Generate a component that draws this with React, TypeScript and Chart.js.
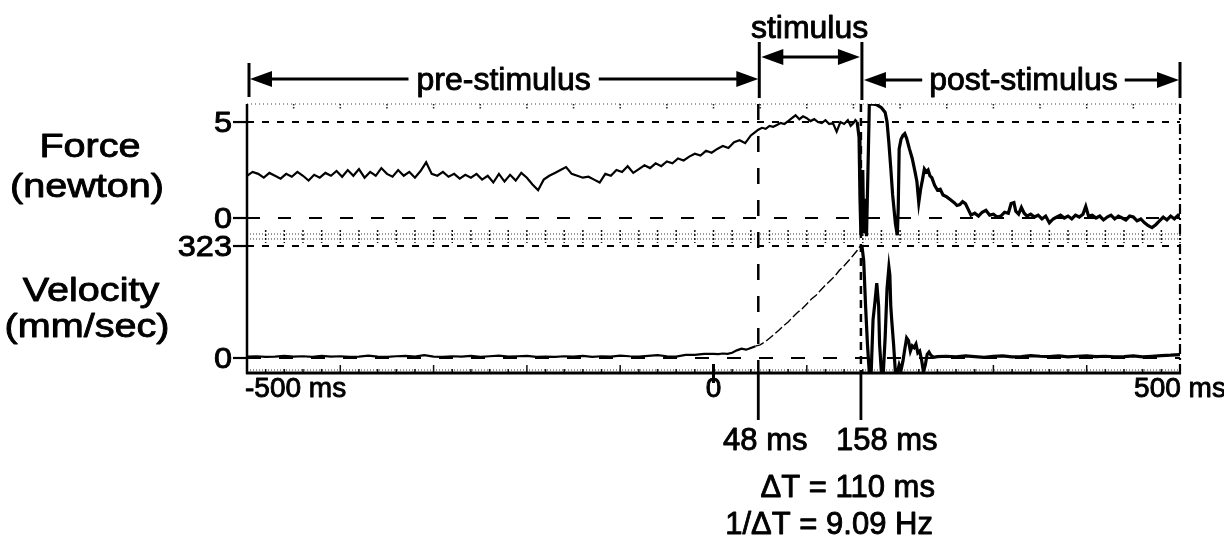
import React, { useEffect, useRef } from 'react';
import { Chart, registerables } from 'chart.js';

Chart.register(...registerables);

// ---------- data ----------
const forceTimes = [
  -500, -494, -488, -482, -476, -470, -464, -458, -452, -446,
  -440, -434, -428, -422, -416, -410, -404, -398, -392, -386,
  -380, -374, -368, -362, -356, -350, -344, -338, -332, -326,
  -320, -314, -308, -302, -296, -290, -284, -278, -272, -266,
  -260, -254, -248, -242, -236, -230, -224, -218, -212, -206,
  -200, -194, -188, -182, -176, -170, -164, -158, -152, -146,
  -140, -134, -128, -122, -116, -110, -104, -98, -92, -86,
  -80, -74, -68, -62, -56, -50, -44, -38, -32, -26,
  -20, -14, -8, -2, 4, 10, 16, 22, 28, 34,
  40, 44, 48, 52, 56, 60, 64, 68, 72, 76,
  80, 84, 88, 92, 96, 100, 104, 108, 112, 116,
  120, 124, 128, 132, 136, 140, 144, 147, 150, 152,
  154, 156, 157, 158, 160, 161, 163, 164, 166, 167,
  170, 175, 180, 184, 186, 188, 190, 192, 195, 197,
  198, 199, 201, 203, 205, 207, 210, 213, 216, 218,
  220, 222, 224, 226, 228, 230, 232, 234, 237, 240,
  243, 246, 250, 254, 258, 261, 264, 267, 270, 273,
  276, 280, 284, 288, 292, 296, 300, 304, 308, 312,
  316, 319, 322, 324, 327, 330, 333, 336, 340, 344,
  348, 352, 356, 360, 364, 368, 372, 376, 380, 384,
  388, 392, 396, 399, 402, 406, 410, 414, 418, 422,
  426, 430, 434, 438, 442, 446, 450, 454, 458, 462,
  466, 470, 474, 478, 482, 486, 490, 494, 498, 500,
];
const forceValues = [
  2.2, 2.4, 2.3, 2.1, 2.35, 2.2, 2.05, 2.3, 2.15, 2.4,
  2.2, 1.95, 2.25, 2.1, 2.35, 2.2, 2.45, 2.15, 2.5, 2.2,
  2.55, 2.1, 2.4, 2.2, 2.6, 2.3, 2.15, 2.5, 2.2, 2.4,
  2.1, 2.45, 2.9, 2.3, 2.2, 2.4, 2.15, 2.3, 2.05, 2.25,
  2.1, 2.3, 2.0, 2.2, 1.85, 2.3, 1.9, 2.25, 1.95, 2.35,
  2.1, 1.75, 1.45, 2.0, 2.2, 2.35, 2.5, 2.65, 2.3, 2.2,
  2.1, 2.15, 2.0, 1.85, 2.3, 2.2, 2.5, 2.4, 2.7, 2.35,
  2.55, 2.75, 2.6, 2.85, 2.7, 2.95, 2.85, 3.1, 3.0, 3.2,
  3.35, 3.25, 3.5, 3.4, 3.6, 3.75, 3.65, 3.95, 4.05, 3.9,
  4.3, 4.45, 4.6, 4.7, 4.65, 4.8, 4.75, 4.85, 4.95, 4.9,
  5.05, 5.2, 5.35, 5.15, 5.3, 5.2, 5.05, 5.15, 5.0, 4.95,
  5.1, 4.9, 4.95, 4.5, 5.0, 4.9, 5.1, 4.8, 4.95, 5.1,
  5.0, 4.2, 1.0, -0.9, 2.5, -0.8, 1.0, -0.95, 3.5, 5.9,
  5.95, 5.9, 5.75, 5.5, 5.0, 3.9, 2.6, 1.2, -0.3, -0.9,
  0.5, 3.6, 4.1, 4.3, 4.4, 4.15, 3.6, 3.1, 2.4, 1.9,
  0.8, 1.5, 2.0, 2.55, 2.4, 2.5, 2.2, 2.1, 1.7, 1.45,
  1.5, 1.2, 1.1, 0.95, 0.8, 0.65, 0.7, 0.85, 0.75, 0.45,
  0.15, 0.25, 0.1, 0.3, 0.4, 0.15, 0.2, 0.05, 0.1, 0.3,
  0.25, 0.75, 0.8, 0.35, 0.2, 0.55, 0.25, 0.1, 0.2, 0.05,
  0.15, -0.05, 0.1, -0.25, -0.05, 0.05, 0.15, 0.0, 0.1, -0.05,
  0.15, 0.05, 0.2, 0.6, 0.1, 0.15, 0.0, 0.1, -0.1, 0.05,
  0.15, -0.05, 0.1, 0.0, -0.1, 0.1, 0.05, -0.15, -0.05, -0.25,
  -0.4, -0.5, -0.35, -0.15, 0.05, -0.1, 0.1, -0.05, 0.15, 0.1,
];

const velocityTimes = [
  -500, -490, -480, -470, -460, -450, -440, -430, -420, -410,
  -400, -390, -380, -370, -360, -350, -340, -330, -320, -310,
  -300, -290, -280, -270, -260, -250, -240, -230, -220, -210,
  -200, -190, -180, -170, -160, -150, -140, -130, -120, -110,
  -100, -90, -80, -70, -60, -50, -40, -30, -20, -10,
  0, 5, 10, 15, 20, 25, 30, 35, 40, 45,
  50, 55, 60, 65, 70, 75, 80, 85, 90, 95,
  100, 105, 110, 115, 120, 125, 130, 135, 140, 145,
  150, 154, 157, 159, 161, 163, 165, 167, 169, 171,
  173, 175, 177, 178, 180, 182, 184, 186, 188, 189,
  190, 191, 193, 195, 197, 199, 201, 203, 205, 207,
  209, 211, 213, 215, 217, 219, 221, 223, 225, 227,
  229, 231, 233, 236, 240, 250, 260, 270, 280, 290,
  300, 310, 320, 330, 340, 350, 360, 370, 380, 390,
  400, 410, 420, 430, 440, 450, 460, 470, 480, 490,
  500,
];
const velocityValues = [
  4, 5, 3, 4, 6, 4, 5, 3, 6, 4,
  5, 3, 4, 7, 4, 3, 5, 6, 4, 8,
  4, 3, 5, 4, 6, 3, 5, 7, 4, 5,
  6, 3, 4, 3, 5, 4, 6, 3, 5, 4,
  7, 5, 4, 6, 8, 5, 4, 9, 9, 12,
  12, 11, 13, 12, 15, 22, 27, 24, 29, 34,
  38, 46, 57, 68, 80, 93, 104, 118, 131, 142,
  156, 170, 181, 196, 210, 223, 236, 253, 266, 281,
  297, 310, 322, 326, 280, 150, 40, -43, -43, 110,
  160, 216, 150, 40, -43, -43, 60, 200, 262, 240,
  150, 110, 40, -43, -43, -20, -35, -10, 25, 58,
  50, 20, 35, 30, 40, 15, 20, -5, -40, -20,
  10, 17, 8, 2, 4, 5, 3, 6, 4, 2,
  5, 6, 3, 4, 7, 5, 4, 6, 3, 5,
  6, 4, 5, 3, 4, 6, 3, 5, 7, 8,
  10,
];

const xTickValues = [-500, 0, 500];
const xTickLabels = ['-500 ms', '0', '500 ms'];
const forceTickValues = [5, 0];
const forceTickLabels = ['5', '0'];
const velocityTickValues = [323, 0];
const velocityTickLabels = ['323', '0'];
const eventTimes = [48, 158];
const eventLabels = ['48 ms', '158 ms'];
const periodBounds = [-500, 48, 158, 500];
const periodLabels = ['pre-stimulus', 'stimulus', 'post-stimulus'];
const summaryLines = ['\u0394T = 110 ms', '1/\u0394T = 9.09 Hz'];
const forceTitle = ['Force', '(newton)'];
const velocityTitle = ['Velocity', '(mm/sec)'];

const FONT = "'Liberation Sans', Arial, Helvetica, sans-serif";

function text(ctx: CanvasRenderingContext2D, s: string, x: number, y: number, size: number, align: CanvasTextAlign, sx = 1) {
  ctx.save();
  ctx.font = `${size}px ${FONT}`;
  ctx.textAlign = align;
  ctx.textBaseline = 'alphabetic';
  ctx.fillStyle = '#000';
  ctx.strokeStyle = '#000';
  ctx.lineWidth = 0.9;
  ctx.lineJoin = 'round';
  ctx.translate(x, y);
  ctx.scale(sx, 1);
  ctx.fillText(s, 0, 0);
  ctx.strokeText(s, 0, 0);
  ctx.restore();
}

function line(ctx: CanvasRenderingContext2D, x1: number, y1: number, x2: number, y2: number, w: number, dash: number[] = [], color = '#000') {
  ctx.save();
  ctx.strokeStyle = color;
  ctx.lineWidth = w;
  ctx.setLineDash(dash);
  ctx.beginPath();
  ctx.moveTo(x1, y1);
  ctx.lineTo(x2, y2);
  ctx.stroke();
  ctx.restore();
}

function arrowHead(ctx: CanvasRenderingContext2D, tipX: number, y: number, dir: number) {
  ctx.save();
  ctx.fillStyle = '#000';
  ctx.beginPath();
  ctx.moveTo(tipX, y);
  ctx.lineTo(tipX - dir * 22, y - 8);
  ctx.lineTo(tipX - dir * 22, y + 8);
  ctx.closePath();
  ctx.fill();
  ctx.restore();
}

const decorPlugin = {
  id: 'decor',
  beforeDatasetsDraw(chart: any) {
    const ctx: CanvasRenderingContext2D = chart.ctx;
    const x = chart.scales.x;
    const yF = chart.scales.yF;
    const yV = chart.scales.yV;
    const L = x.getPixelForValue(-500);
    const R = x.getPixelForValue(500);
    const top = yF.top;
    const mid = yF.bottom;
    const bottom = yV.bottom;

    // top dotted border with small ticks
    line(ctx, L, top, R, top, 1.2, [1, 3], '#444');
    for (let t = -500; t <= 500; t += 50) {
      const px = x.getPixelForValue(t);
      line(ctx, px, top, px, top + 5, 1.5, [1.5, 1.5], '#222');
    }
    // dotted band between panels
    line(ctx, L, mid - 3, R, mid - 3, 1.2, [1, 2], '#333');
    line(ctx, L, mid + 2, R, mid + 2, 1.2, [1, 2], '#333');
    for (let t = -500; t <= 500; t += 20) {
      const px = x.getPixelForValue(t);
      line(ctx, px, mid - 7, px, mid + 6, 1.5, [2, 2], '#111');
    }
    // horizontal reference lines
    line(ctx, L, yF.getPixelForValue(5), R, yF.getPixelForValue(5), 2, [7, 8]);
    line(ctx, L, yF.getPixelForValue(0), R, yF.getPixelForValue(0), 2, [13, 18]);
    line(ctx, L, yV.getPixelForValue(323), R, yV.getPixelForValue(323), 2, [7, 8]);
    line(ctx, L, yV.getPixelForValue(0), R, yV.getPixelForValue(0), 2, [14, 18]);
    // vertical event lines
    const e1 = x.getPixelForValue(eventTimes[0]);
    const e2 = x.getPixelForValue(eventTimes[1]);
    line(ctx, e1, top, e1, bottom, 2.5, [16, 16]);
    line(ctx, e2, top, e2, bottom, 2.5, [8, 6]);
    // bottom dotted with ticks
    line(ctx, L, bottom - 3, R, bottom - 3, 1.2, [1, 2], '#333');
    for (let t = -500; t <= 500; t += 20) {
      const px = x.getPixelForValue(t);
      const h = t % 100 === 0 ? 8 : 4;
      line(ctx, px, bottom - h, px, bottom, 1.5, [], '#111');
    }
  },
  afterDraw(chart: any) {
    const ctx: CanvasRenderingContext2D = chart.ctx;
    const x = chart.scales.x;
    const yF = chart.scales.yF;
    const yV = chart.scales.yV;
    const L = x.getPixelForValue(-500);
    const R = x.getPixelForValue(500);
    const top = yF.top;
    const bottom = yV.bottom;

    // axes frame
    line(ctx, L, top, L, bottom + 1, 2.5);
    line(ctx, R, top, R, bottom + 1, 2.2, [10, 4, 2, 4]);
    line(ctx, L - 1, bottom, R + 1, bottom, 3);

    // y ticks + labels
    forceTickValues.forEach((v, i) => {
      const py = yF.getPixelForValue(v);
      line(ctx, L - 14, py, L, py, 2.2);
      text(ctx, forceTickLabels[i], L - 15, py + 10, 29, 'right', 1.12);
    });
    velocityTickValues.forEach((v, i) => {
      const py = yV.getPixelForValue(v);
      line(ctx, L - 14, py, L, py, 2.2);
      text(ctx, velocityTickLabels[i], L - 15, py + 10, 29, 'right', 1.12);
    });

    // y titles
    text(ctx, forceTitle[0], 90, 157, 33, 'center', 1.2);
    text(ctx, forceTitle[1], 87, 197, 33, 'center', 1.2);
    text(ctx, velocityTitle[0], 91, 301, 33, 'center', 1.2);
    text(ctx, velocityTitle[1], 87, 337, 33, 'center', 1.2);

    // x tick at zero + labels
    const z = x.getPixelForValue(0);
    line(ctx, z, bottom - 9, z, bottom + 10, 3);
    text(ctx, xTickLabels[0], x.getPixelForValue(xTickValues[0]) - 2, bottom + 24, 28, 'left');
    text(ctx, xTickLabels[1], x.getPixelForValue(xTickValues[1]), bottom + 24, 28, 'center');
    text(ctx, xTickLabels[2], x.getPixelForValue(xTickValues[2]), bottom + 24, 28, 'center');

    // event lines below axis
    const e1 = x.getPixelForValue(eventTimes[0]);
    const e2 = x.getPixelForValue(eventTimes[1]);
    line(ctx, e1, bottom, e1, bottom + 47, 2.8);
    line(ctx, e2, bottom, e2, bottom + 47, 2.8);
    text(ctx, eventLabels[0], e1 + 7, bottom + 77, 31, 'center');
    text(ctx, eventLabels[1], e2 - 25, bottom + 77, 31, 'left');
    text(ctx, summaryLines[0], e2 + 74, bottom + 124, 31, 'right');
    text(ctx, summaryLines[1], e2 + 72, bottom + 161, 31, 'right');

    // period brackets
    const p0 = x.getPixelForValue(periodBounds[0]) + 2;
    const p1 = x.getPixelForValue(periodBounds[1]);
    const p2 = x.getPixelForValue(periodBounds[2]);
    const p3 = x.getPixelForValue(periodBounds[3]);
    ctx.save();
    ctx.font = `32px ${FONT}`;
    const w0 = ctx.measureText(periodLabels[0]).width;
    const w2 = ctx.measureText(periodLabels[2]).width;
    ctx.restore();

    // pre-stimulus
    const yb = 79;
    line(ctx, p0, 63, p0, 97, 3);
    arrowHead(ctx, p0 + 1, yb, -1);
    const c0 = (p0 + p1) / 2;
    line(ctx, p0 + 20, yb, c0 - w0 / 2 - 8, yb, 2.8);
    line(ctx, c0 + w0 / 2 + 8, yb, p1 - 18, yb, 2.8);
    arrowHead(ctx, p1, yb, 1);
    text(ctx, periodLabels[0], c0, 90, 32, 'center');

    // stimulus
    const ys = 57;
    line(ctx, p1 + 1, 42, p1 + 1, 98, 3);
    line(ctx, p2 + 1, 42, p2 + 1, 100, 3);
    arrowHead(ctx, p1 + 3, ys, -1);
    arrowHead(ctx, p2 - 1, ys, 1);
    line(ctx, p1 + 20, ys, p2 - 18, ys, 2.8);
    text(ctx, periodLabels[1], (p1 + p2) / 2, 38, 32, 'center');

    // post-stimulus
    const yp = 80;
    line(ctx, p3, 62, p3, 98, 3);
    arrowHead(ctx, p2 + 3, yp, -1);
    arrowHead(ctx, p3 - 1, yp, 1);
    const c2 = (p2 + p3) / 2 + 3;
    line(ctx, p2 + 20, yp, c2 - w2 / 2 - 7, yp, 2.8);
    line(ctx, c2 + w2 / 2 + 7, yp, p3 - 18, yp, 2.8);
    text(ctx, periodLabels[2], c2, 90, 32, 'center');
  },
};

export default function App() {
  const canvasRef = useRef<HTMLCanvasElement | null>(null);

  useEffect(() => {
    const canvas = canvasRef.current;
    if (!canvas) return;
    const forceData = forceTimes.map((t, i) => ({ x: t, y: forceValues[i] }));
    const velocityData = velocityTimes.map((t, i) => ({ x: t, y: velocityValues[i] }));

    const chart = new Chart(canvas, {
      type: 'line',
      data: {
        datasets: [
          {
            label: 'Force (newton)',
            data: forceData,
            xAxisID: 'x',
            yAxisID: 'yF',
            borderColor: '#000',
            borderWidth: 2.2,
            pointRadius: 0,
            tension: 0,
            segment: {
              borderWidth: (c: any) => (c.p0.parsed.x >= 154 ? 3.2 : 2.2),
            },
          },
          {
            label: 'Velocity (mm/sec)',
            data: velocityData,
            xAxisID: 'x',
            yAxisID: 'yV',
            borderColor: '#000',
            borderWidth: 2.2,
            pointRadius: 0,
            tension: 0,
            segment: {
              borderDash: (c: any) => (c.p0.parsed.x >= 45 && c.p1.parsed.x <= 159 ? [9, 3] : undefined),
              borderWidth: (c: any) =>
                c.p0.parsed.x >= 45 && c.p1.parsed.x <= 159 ? 1.4 : c.p0.parsed.x >= 159 ? 3.2 : 2.2,
            },
          },
        ],
      },
      options: {
        responsive: false,
        animation: false,
        devicePixelRatio: 1,
        layout: { padding: { left: 247, right: 44, top: 104, bottom: 165 } },
        plugins: { legend: { display: false }, tooltip: { enabled: false } },
        scales: {
          x: { type: 'linear', min: -500, max: 500, display: false },
          yV: { type: 'linear', min: -43.3, max: 349, display: false, stack: 'panels', stackWeight: 136 },
          yF: { type: 'linear', min: -0.99, max: 5.94, display: false, stack: 'panels', stackWeight: 133 },
        },
      } as any,
      plugins: [decorPlugin],
    });
    return () => chart.destroy();
  }, []);

  return (
    <div style={{ position: 'absolute', left: 0, top: 0, width: 1224, height: 538, background: '#fff' }}>
      <canvas ref={canvasRef} width={1224} height={538} style={{ display: 'block', width: 1224, height: 538 }} />
    </div>
  );
}
